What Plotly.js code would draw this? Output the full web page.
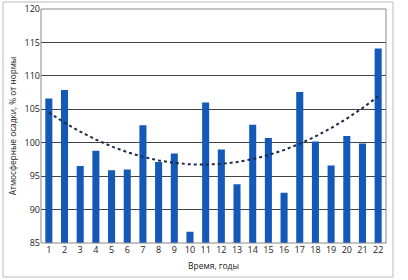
<!DOCTYPE html>
<html><head><meta charset="utf-8">
<script src="https://cdn.plot.ly/plotly-3.0.1.min.js"></script>
<style>html,body{margin:0;padding:0;background:#fff}#c{width:408px;height:280px}</style>
</head><body><div id="c"></div>
<script>
const years = [1,2,3,4,5,6,7,8,9,10,11,12,13,14,15,16,17,18,19,20,21,22];
const precip = [106.6,107.9,96.5,98.8,95.9,96.0,102.6,97.1,98.4,86.7,106.0,99.0,93.8,102.7,100.7,92.5,107.6,100.2,96.6,101.0,99.9,114.1];
const yTicks = [85,90,95,100,105,110,115,120];

// Quadratic least-squares trendline (like Excel's polynomial trendline, degree 2)
function polyFit2(xs, ys){
  let n=xs.length,S=[0,0,0,0,0],T=[0,0,0];
  for(let i=0;i<n;i++){let p=1;for(let k=0;k<5;k++){S[k]+=p;if(k<3)T[k]+=p*ys[i];p*=xs[i];}}
  const A=[[S[0],S[1],S[2],T[0]],[S[1],S[2],S[3],T[1]],[S[2],S[3],S[4],T[2]]];
  for(let i=0;i<3;i++){for(let j=i+1;j<3;j++){const f=A[j][i]/A[i][i];for(let k=i;k<4;k++)A[j][k]-=f*A[i][k];}}
  const c=[0,0,0];
  for(let i=2;i>=0;i--){let s=A[i][3];for(let k=i+1;k<3;k++)s-=A[i][k]*c[k];c[i]=s/A[i][i];}
  return c;
}
const cf = polyFit2(years, precip);
const trend = years.map(x=>cf[0]+cf[1]*x+cf[2]*x*x);

const font = {family:'"Open Sans", Lato, sans-serif', size:9, color:'#222'};
const L=41,R=386,T=9,B=243;
const px=v=>(v-L)/(R-L), py=v=>(B-v)/(B-T);

Plotly.newPlot('c',[
  {type:'bar',x:years,y:precip,marker:{color:'#1458b8',line:{width:0}},hoverinfo:'none'},
  {type:'scatter',mode:'lines',x:years,y:trend,line:{color:'#1c2a48',width:2,dash:'dot'},hoverinfo:'none'}
],{
  width:408,height:280,
  margin:{l:L,r:408-R,t:T,b:280-B},
  paper_bgcolor:'#fff',plot_bgcolor:'#fff',
  showlegend:false,bargap:0.55,
  font:font,
  xaxis:{type:'category',tickvals:years,ticktext:years.map(String),showgrid:false,zeroline:false,
    showline:false,ticks:'',tickfont:font,
    title:{text:'Время, годы',font:{family:font.family,size:8.5,color:'#222'},standoff:8}},
  yaxis:{range:[85,120],tickvals:yTicks,ticktext:yTicks.map(String),showgrid:true,gridcolor:'#444',gridwidth:1,
    zeroline:false,showline:false,ticks:'',tickfont:font,
    title:{text:'Атмосферные осадки, % от нормы',font:{family:font.family,size:8.3,color:'#222'},standoff:6}},
  shapes:[
    {type:'rect',xref:'paper',yref:'paper',x0:0,x1:1,y0:0,y1:1,line:{color:'#888',width:1},layer:'above'},
    {type:'rect',xref:'paper',yref:'paper',x0:px(3),x1:px(393),y0:py(277),y1:py(2),line:{color:'#bbb',width:1}}
  ]
},{displayModeBar:false,staticPlot:true});
</script></body></html>
